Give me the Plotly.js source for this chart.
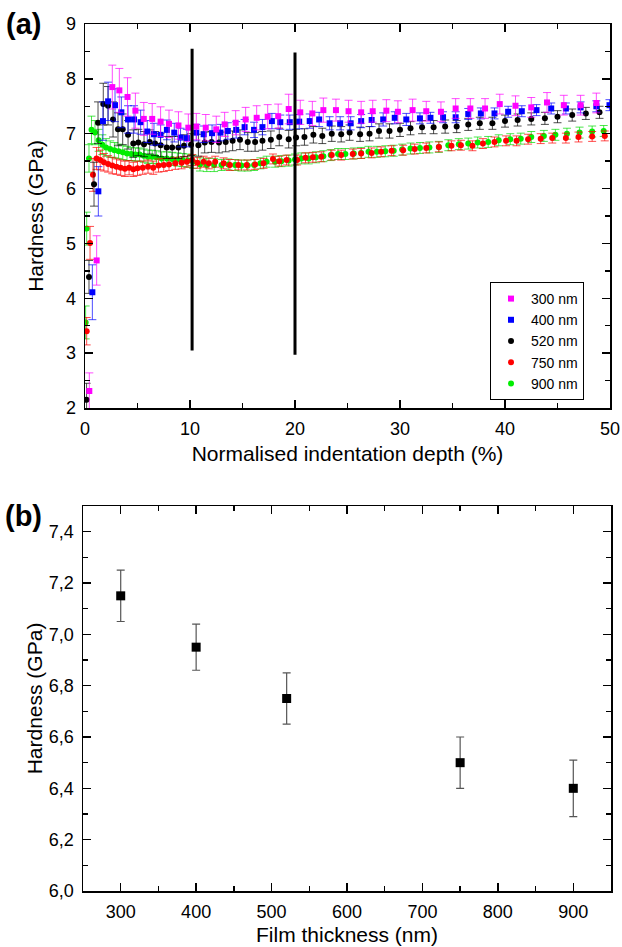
<!DOCTYPE html>
<html>
<head>
<meta charset="utf-8">
<script src="https://cdn.plot.ly/plotly-3.0.1.min.js"></script>
<style>html,body{margin:0;padding:0;background:#fff;}#chart{width:622px;height:947px;}</style>
</head>
<body>
<div id="chart"></div>
<script>
// ---------- Panel (a) data ----------
const names = ['300 nm', '400 nm', '520 nm', '750 nm', '900 nm'];

const x300 = [0.41,1.11,2.6,3.27,4.05,4.8,5.6,6.4,7.2,8.0,8.9,9.84,10.6,11.5,12.5,13.3,14.35,15.3,16.35,17.4,18.4,19.4,20.5,21.65,22.7,23.9,25.1,26.3,27.4,28.7,29.8,31.2,32.5,33.9,35.3,36.7,38.1,39.5,41.0,42.5,44.0,45.6,47.2,48.7];
const y300 = [2.31,4.69,7.85,7.79,7.67,7.42,7.27,7.27,7.22,7.18,7.15,7.11,7.13,7.11,7.08,7.17,7.20,7.26,7.29,7.31,7.32,7.45,7.39,7.37,7.43,7.43,7.41,7.39,7.41,7.42,7.40,7.43,7.41,7.40,7.46,7.46,7.46,7.54,7.51,7.48,7.57,7.52,7.52,7.56];
const e300 = [0.33,0.45,0.40,0.40,0.35,0.32,0.30,0.28,0.27,0.25,0.25,0.25,0.24,0.24,0.24,0.22,0.22,0.22,0.22,0.22,0.22,0.27,0.22,0.22,0.22,0.20,0.20,0.20,0.20,0.20,0.20,0.20,0.18,0.18,0.18,0.18,0.18,0.18,0.18,0.18,0.18,0.18,0.18,0.18];

const x400 = [0.70,1.27,1.71,2.2,2.86,3.46,4.1,4.67,5.3,5.93,6.57,7.2,7.8,8.5,9.1,9.7,10.6,11.3,12.1,12.9,13.6,14.4,15.2,16.1,16.9,17.8,18.6,19.5,20.4,21.4,22.3,23.3,24.3,25.3,26.3,27.3,28.4,29.5,30.6,31.9,32.9,34.1,35.3,36.5,37.7,39.0,40.3,41.6,43.0,44.4,45.8,47.2,48.7,49.95];
const y400 = [4.11,5.95,7.23,7.59,7.52,7.39,7.26,7.26,7.21,7.04,6.99,6.98,7.07,7.02,6.93,6.92,7.02,6.99,7.01,7.02,7.05,7.07,7.12,7.07,7.12,7.23,7.21,7.21,7.22,7.23,7.26,7.19,7.19,7.19,7.23,7.25,7.26,7.29,7.26,7.28,7.29,7.30,7.30,7.36,7.37,7.37,7.40,7.41,7.43,7.46,7.46,7.48,7.50,7.52];
const e400 = [0.5,0.45,0.35,0.35,0.3,0.28,0.25,0.25,0.22,0.2,0.2,0.18,0.18,0.17,0.17,0.16,0.15,0.15,0.15,0.15,0.15,0.15,0.14,0.14,0.14,0.14,0.13,0.13,0.13,0.13,0.13,0.12,0.12,0.12,0.12,0.12,0.12,0.11,0.11,0.1,0.1,0.1,0.1,0.1,0.1,0.1,0.1,0.1,0.1,0.1,0.1,0.1,0.1,0.1];

const x520 = [0.15,0.38,0.86,1.24,1.74,2.19,2.67,3.14,3.59,4.1,4.6,5.08,5.62,6.16,6.67,7.2,7.78,8.3,8.9,9.43,10.1,10.8,11.4,12.05,12.76,13.4,14.06,14.76,15.5,16.2,16.9,17.7,18.5,19.4,20.1,20.9,21.75,22.6,23.5,24.4,25.2,26.2,27.1,28.0,29.0,30.0,31.0,32.1,33.2,34.3,35.4,36.5,37.6,38.8,40.0,41.2,42.5,43.8,45.0,46.4,47.7,49.0];
const y520 = [2.15,4.39,6.08,7.20,7.54,7.51,7.26,7.08,7.08,6.98,6.82,6.84,6.81,6.85,6.82,6.79,6.75,6.75,6.75,6.78,6.80,6.79,6.84,6.85,6.84,6.85,6.87,6.89,6.85,6.85,6.87,6.89,6.94,6.90,6.93,6.94,6.98,6.96,7.00,6.99,7.02,6.99,7.00,7.05,7.05,7.07,7.10,7.12,7.12,7.13,7.13,7.17,7.19,7.19,7.23,7.25,7.27,7.28,7.31,7.34,7.37,7.39];
const e520 = [0.3,0.3,0.4,0.38,0.38,0.35,0.32,0.3,0.28,0.26,0.25,0.24,0.23,0.22,0.22,0.21,0.2,0.2,0.2,0.2,0.2,0.2,0.19,0.19,0.19,0.18,0.18,0.18,0.17,0.17,0.17,0.16,0.16,0.16,0.15,0.15,0.15,0.14,0.14,0.14,0.14,0.13,0.13,0.13,0.13,0.12,0.12,0.12,0.12,0.12,0.11,0.11,0.11,0.11,0.11,0.11,0.11,0.11,0.11,0.11,0.11,0.11];

const x750 = [0.16,0.48,0.76,1.1,1.45,1.8,2.2,2.6,3.0,3.4,3.8,4.2,4.6,5.0,5.5,6.0,6.5,7.0,7.5,8.0,8.6,9.2,9.7,10.2,10.7,11.3,11.8,12.4,13.2,13.8,14.6,15.4,16.2,17.0,17.9,18.5,19.2,20.2,21.0,21.7,22.5,23.5,24.4,25.5,26.3,27.3,28.2,29.2,30.3,31.4,32.5,33.7,34.9,35.8,36.9,37.9,39.0,40.1,41.1,42.2,43.4,44.5,45.8,47.0,48.3,49.5];
const y750 = [3.40,5.01,6.25,6.55,6.52,6.48,6.45,6.42,6.40,6.38,6.36,6.38,6.35,6.37,6.38,6.40,6.38,6.42,6.43,6.44,6.46,6.47,6.49,6.52,6.47,6.49,6.46,6.49,6.46,6.43,6.43,6.43,6.44,6.46,6.54,6.50,6.52,6.52,6.56,6.57,6.58,6.61,6.61,6.63,6.64,6.65,6.67,6.69,6.70,6.72,6.74,6.76,6.78,6.79,6.78,6.82,6.85,6.87,6.87,6.90,6.91,6.92,6.92,6.94,6.95,6.96];
const e750 = [0.25,0.3,0.3,0.2,0.18,0.16,0.15,0.15,0.14,0.14,0.14,0.13,0.13,0.13,0.12,0.12,0.12,0.12,0.12,0.11,0.11,0.11,0.1,0.1,0.1,0.1,0.1,0.1,0.1,0.1,0.09,0.09,0.09,0.09,0.09,0.09,0.09,0.09,0.09,0.09,0.09,0.09,0.09,0.09,0.09,0.09,0.09,0.09,0.09,0.09,0.09,0.09,0.09,0.09,0.09,0.09,0.09,0.09,0.09,0.09,0.09,0.09,0.09,0.09,0.09,0.09];

const x900 = [0.06,0.16,0.38,0.62,0.95,1.3,1.65,2.0,2.4,2.8,3.2,3.6,4.0,4.4,4.8,5.2,5.6,6.0,6.4,6.8,7.3,7.8,8.3,8.8,9.3,9.8,10.3,10.95,11.6,12.3,13.0,13.65,14.3,14.9,15.5,16.1,16.7,17.3,18.1,18.7,19.4,20.0,20.6,21.3,22.0,22.7,23.4,24.1,24.8,25.6,26.3,27.0,27.8,28.6,29.4,30.2,31.0,31.9,32.8,33.7,34.6,35.6,36.5,37.4,38.4,39.4,40.5,41.5,42.5,43.7,44.8,45.9,47.1,48.3,49.4];
const y900 = [3.56,5.27,6.55,7.07,7.02,6.88,6.80,6.75,6.72,6.70,6.68,6.66,6.64,6.63,6.62,6.62,6.60,6.58,6.58,6.57,6.55,6.55,6.54,6.53,6.52,6.51,6.49,6.44,6.43,6.43,6.43,6.44,6.43,6.42,6.42,6.43,6.46,6.49,6.49,6.50,6.51,6.53,6.55,6.55,6.57,6.59,6.61,6.63,6.63,6.64,6.65,6.67,6.67,6.68,6.69,6.71,6.73,6.74,6.75,6.76,6.79,6.81,6.82,6.84,6.85,6.88,6.90,6.91,6.94,6.96,6.98,7.00,7.02,7.04,7.05];
const e900 = [0.3,0.3,0.25,0.25,0.22,0.2,0.18,0.16,0.15,0.14,0.13,0.13,0.13,0.12,0.12,0.12,0.12,0.12,0.12,0.12,0.12,0.12,0.12,0.12,0.12,0.12,0.12,0.12,0.12,0.12,0.1,0.1,0.1,0.1,0.1,0.1,0.1,0.1,0.1,0.1,0.1,0.1,0.1,0.1,0.1,0.1,0.1,0.1,0.1,0.1,0.1,0.1,0.1,0.1,0.1,0.1,0.1,0.1,0.1,0.1,0.1,0.1,0.1,0.1,0.1,0.1,0.1,0.1,0.1,0.1,0.1,0.1,0.1,0.1,0.1];

// vertical marker lines in panel (a)
const vlineX = [10.2, 20.0];
const vlineY0 = [3.05, 2.97];
const vlineY1 = [8.55, 8.48];

// ---------- Panel (b) data ----------
const thickness = [300, 400, 520, 750, 900];
const hardness = [7.15, 6.95, 6.75, 6.50, 6.40];
const hardErr = [0.10, 0.09, 0.10, 0.10, 0.11];

const FONT = '"Liberation Sans", Arial, sans-serif';
const colors = ['#ff00ff', '#0000ff', '#000000', '#ff0000', '#00ee00'];
const errColors = ['rgba(255,0,255,0.7)', 'rgba(0,0,255,0.7)', 'rgba(0,0,0,0.7)', 'rgba(255,0,0,0.7)', 'rgba(0,220,0,0.7)'];
const symbols = ['square', 'square', 'circle', 'circle', 'circle'];
const series = [[x300,y300,e300],[x400,y400,e400],[x520,y520,e520],[x750,y750,e750],[x900,y900,e900]];

const traces = [];
const drawOrder = [4, 3, 2, 1, 0];
drawOrder.forEach(i => {
  traces.push({
    type: 'scatter', mode: 'markers', name: names[i],
    x: series[i][0], y: series[i][1],
    error_y: {type: 'data', array: series[i][2], visible: true, color: errColors[i], thickness: 1, width: 4},
    marker: {color: colors[i], symbol: symbols[i], size: 6},
    xaxis: 'x', yaxis: 'y', legendrank: i + 1
  });
});
vlineX.forEach((vx, k) => {
  traces.push({
    type: 'scatter', mode: 'lines', x: [vx, vx], y: [vlineY0[k], vlineY1[k]],
    line: {color: '#000', width: 3}, showlegend: false, hoverinfo: 'skip',
    xaxis: 'x', yaxis: 'y'
  });
});
traces.push({
  type: 'scatter', mode: 'markers', x: thickness, y: hardness,
  error_y: {type: 'data', array: hardErr, visible: true, color: '#555', thickness: 1.2, width: 4},
  marker: {color: '#000', symbol: 'square', size: 9},
  showlegend: false, xaxis: 'x2', yaxis: 'y2'
});

const W = 622, H = 947;
const axisCommon = {
  showline: true, linecolor: '#000', linewidth: 1.5, mirror: 'ticks',
  ticks: 'inside', ticklen: 8, tickwidth: 1.3, tickcolor: '#000',
  showgrid: false, zeroline: false, ticklabelstandoff: 4,
  tickfont: {family: FONT, size: 18, color: '#000'}
};
const titleFont = {family: FONT, size: 21, color: '#000'};
const minorTicks = (d) => ({dtick: d, ticklen: 5, ticks: 'inside', tickcolor: '#000', tickwidth: 1.3});

const layout = {
  width: W, height: H,
  margin: {l: 0, r: 0, t: 0, b: 0},
  paper_bgcolor: '#fff', plot_bgcolor: '#fff',
  separators: ',.',
  font: {family: FONT, color: '#000'},
  xaxis: Object.assign({}, axisCommon, {
    domain: [85 / W, 610 / W], range: [0, 50], tick0: 0, dtick: 10, anchor: 'y',
    minor: minorTicks(5),
    title: {text: 'Normalised indentation depth (%)', font: titleFont, standoff: 8}
  }),
  yaxis: Object.assign({}, axisCommon, {
    domain: [1 - 408 / H, 1 - 24 / H], range: [2, 9], tick0: 0, dtick: 1, anchor: 'x',
    minor: minorTicks(0.5),
    title: {text: 'Hardness (GPa)', font: titleFont, standoff: 16}
  }),
  xaxis2: Object.assign({}, axisCommon, {
    domain: [83 / W, 611 / W], range: [250, 950], tick0: 0, dtick: 100, anchor: 'y2',
    minor: minorTicks(50),
    title: {text: 'Film thickness (nm)', font: titleFont, standoff: 6}
  }),
  yaxis2: Object.assign({}, axisCommon, {
    domain: [1 - 891 / H, 1 - 506 / H], range: [6.0, 7.5], tick0: 6, dtick: 0.2, tickformat: '.1f', anchor: 'x2',
    minor: minorTicks(0.1),
    title: {text: 'Hardness (GPa)', font: titleFont, standoff: 0}
  }),
  legend: {
    x: 490 / W, y: 1 - 282 / H, xanchor: 'left', yanchor: 'top',
    bordercolor: '#000', borderwidth: 1, bgcolor: '#fff',
    font: {family: FONT, size: 14, color: '#000'},
    itemwidth: 30, tracegroupgap: 0
  },
  showlegend: true,
  annotations: [
    {text: '<b>(a)</b>', xref: 'paper', yref: 'paper', x: 4 / W, y: 1 - 24 / H, xanchor: 'left', yanchor: 'middle', showarrow: false, font: {size: 29, family: FONT, color: '#000'}},
    {text: '<b>(b)</b>', xref: 'paper', yref: 'paper', x: 3 / W, y: 1 - 516 / H, xanchor: 'left', yanchor: 'middle', showarrow: false, font: {size: 29, family: FONT, color: '#000'}}
  ]
};

Plotly.newPlot('chart', traces, layout, {displayModeBar: false, staticPlot: true});
</script>
</body>
</html>
